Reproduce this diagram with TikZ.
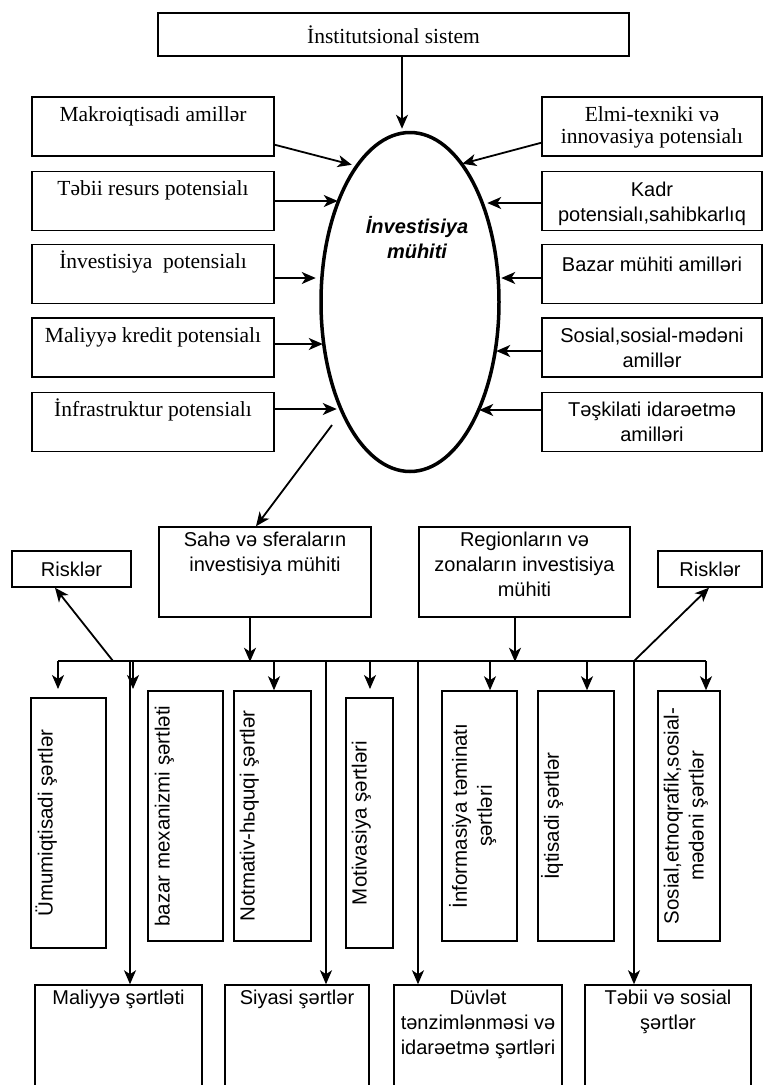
\documentclass[tikz,border=0pt]{standalone}
\usepackage{fontspec}
\setmainfont{Liberation Serif}
\setsansfont{Liberation Sans}
\usetikzlibrary{arrows.meta,positioning,shapes.geometric}
\tikzset{
        box/.style = {draw, rectangle, line width=1.5pt, inner sep=0pt},
        lbox/.style = {box, minimum width=242pt, minimum height=59pt},
        rbox/.style = {box, minimum width=220pt, minimum height=59pt},
        vrect/.style = {box, minimum height=250pt},
        brect/.style = {box, minimum height=120pt},
        ser/.style = {font=\fontsize{21.5}{22.5}\selectfont, align=center, inner sep=0pt},
        san/.style = {font=\sffamily\fontsize{20}{25}\selectfont, align=center, inner sep=0pt},
        vtxt/.style = {san, font=\sffamily\fontsize{20.5}{25}\selectfont, rotate=90},
        arrow/.style = {draw, line width=1.8pt, -{Stealth[length=14pt,width=12pt,inset=4pt]}},
    }

\begin{document}
\begin{tikzpicture}[x=1pt,y=-1pt]
\useasboundingbox (0,0) rectangle (764,1085);

% top
\node[box, minimum width=471pt, minimum height=43pt, ser] (inst) at (393.5,34.5) {İnstitutsional sistem};
\node[draw, ellipse, line width=3.5pt, minimum width=178pt, minimum height=339pt, inner sep=0pt] (env) at (410,302) {};
\node[font=\sffamily\bfseries\itshape\fontsize{20}{25}\selectfont, align=center, inner sep=0pt] (envt) at (417,238) {İnvestisiya\\mühiti};
\draw[arrow] ([xshift=8.5pt]inst.south) -- ++(0,72);

% left boxes
\node[lbox] (makro) at (153,126.5) {};
\node[lbox] (tebii) at (153,201) {};
\node[lbox] (invpot) at (153,274) {};
\node[lbox] (kredit) at (153,347.5) {};
\node[lbox] (infra) at (153,422) {};
\node[ser, anchor=north] (makrot) at ([yshift=-10pt]makro.north) {Makroiqtisadi amillər};
\node[ser, anchor=north] (tebiit) at ([yshift=-10pt]tebii.north) {Təbii resurs potensialı};
\node[ser, anchor=north] (invpott) at ([yshift=-7pt]invpot.north) {İnvestisiya\ \ potensialı};
\node[ser, anchor=north] (kreditt) at ([yshift=-10pt]kredit.north) {Maliyyə kredit potensialı};
\node[ser, anchor=north] (infrat) at ([yshift=-7pt]infra.north) {İnfrastruktur potensialı};

% right boxes
\node[rbox] (elmi) at (652,126.5) {};
\node[rbox] (kadr) at (652,201) {};
\node[rbox] (bazar) at (652,274) {};
\node[rbox] (sosial) at (652,347.5) {};
\node[rbox] (teskil) at (652,422) {};
\node[ser, anchor=north] (elmit) at ([yshift=-10pt]elmi.north) {Elmi-texniki və\\innovasiya potensialı};
\node[san, anchor=north] (kadrt) at ([yshift=-11pt]kadr.north) {Kadr\\potensialı,sahibkarlıq};
\node[san, anchor=north] (bazart) at ([yshift=-13pt]bazar.north) {Bazar mühiti amilləri};
\node[san, anchor=north] (sosialt) at ([yshift=-11pt]sosial.north) {Sosial,sosial-mədəni\\amillər};
\node[san, anchor=north] (teskilt) at ([yshift=-10pt]teskil.north) {Təşkilati idarəetmə\\amilləri};

% inputs to the environment
\draw[arrow] ([yshift=12pt]makro.south east) -- ++(77,20);
\draw[arrow] (tebii.east) -- ++(63,0);
\draw[arrow] ([yshift=-4pt]invpot.east) -- ++(41,0);
\draw[arrow] ([yshift=3.5pt]kredit.east) -- ++(48,0);
\draw[arrow] ([yshift=13pt]infra.east) -- ++(62,0);
\draw[arrow] ([yshift=14pt]elmi.south west) -- ++(-79,21);
\draw[arrow] ([yshift=-2pt]kadr.west) -- ++(-54,0);
\draw[arrow] ([yshift=-4pt]bazar.west) -- ++(-40,0);
\draw[arrow] ([yshift=-3.5pt]sosial.west) -- ++(-45,0);
\draw[arrow] ([yshift=12pt]teskil.west) -- ++(-62,0);

% middle level
\node[box, minimum width=212pt, minimum height=90pt] (saha) at (265,572) {};
\node[box, minimum width=211pt, minimum height=90pt] (region) at (524.5,572) {};
\node[san, anchor=north] (sahat) at ([yshift=-6pt]saha.north) {Sahə və sferaların\\investisiya mühiti};
\node[san, anchor=north] (regiont) at ([yshift=-6pt]region.north) {Regionların və\\zonaların investisiya\\mühiti};
\node[box, minimum width=119pt, minimum height=36pt, san] (riskL) at (71.5,569) {Risklər};
\node[box, minimum width=104pt, minimum height=36pt, san] (riskR) at (710,569) {Risklər};

\coordinate (split) at (332,425);
\draw[arrow] (split) -- ([xshift=-9pt]saha.north);

% bus
\coordinate (busL) at (58,661);
\coordinate (busR) at (706,661);
\draw[line width=1.8pt] (busL) -- (busR);
\draw[arrow] ([xshift=-15pt]saha.south) -- ++(0,44);
\draw[arrow] ([xshift=-9.5pt]region.south) -- ++(0,44);
\coordinate (rskL) at (113,661);
\coordinate (rskR) at (634,661);
\draw[arrow] (rskL) -- ([xshift=-16.5pt]riskL.south);
\draw[arrow] (rskR) -- ([xshift=-1pt]riskR.south);

% vertical boxes
\node[vrect, minimum width=75pt] (umumi) at (68.5,823) {};
\node[vrect, minimum width=75pt] (mexan) at (185.5,816) {};
\node[vrect, minimum width=77pt] (normat) at (272.5,816) {};
\node[vrect, minimum width=47pt] (motiv) at (369.5,823) {};
\node[vrect, minimum width=75pt] (inform) at (479.5,816) {};
\node[vrect, minimum width=76pt] (iqtis) at (576,816) {};
\node[vrect, minimum width=62pt] (etno) at (689,816) {};
\node[vtxt] (umumit) at ([xshift=16pt]umumi.west) {Ümumiqtisadi şərtlər};
\node[vtxt] (mexant) at ([xshift=17pt]mexan.west) {bazar mexanizmi şərtləti};
\node[vtxt] (normatt) at ([xshift=16pt]normat.west) {Notmativ-hьquqi şərtlər};
\node[vtxt] (motivt) at ([xshift=16pt]motiv.west) {Motivasiya şərtləri};
\node[vtxt] (informt) at ([xshift=31.5pt]inform.west) {İnformasiya təminatı\\şərtləri};
\node[vtxt] (iqtist) at ([xshift=15pt]iqtis.west) {İqtisadi şərtlər};
\node[vtxt] (etnot) at ([xshift=28.5pt]etno.west) {Sosial,etnoqrafik,sosial-\\mədəni şərtlər};

% bottom boxes
\node[brect, minimum width=167pt] (maliyye) at (118.5,1045) {};
\node[brect, minimum width=144pt] (siyasi) at (297,1045) {};
\node[brect, minimum width=168pt] (dovlet) at (478,1045) {};
\node[brect, minimum width=166pt] (tebsos) at (668,1045) {};
\node[san, anchor=north] (maliyyet) at ([yshift=-6pt]maliyye.north) {Maliyyə şərtləti};
\node[san, anchor=north] (siyasit) at ([yshift=-6pt]siyasi.north) {Siyasi şərtlər};
\node[san, anchor=north] (dovlett) at ([yshift=-6pt]dovlet.north) {Düvlət\\tənzimlənməsi və\\idarəetmə şərtləri};
\node[san, anchor=north] (tebsost) at ([yshift=-6pt]tebsos.north) {Təbii və sosial\\şərtlər};

% drops from the bus
\coordinate (d2) at (133,661);
\coordinate (d3) at (274,661);
\coordinate (d4) at (370,661);
\coordinate (d5) at (490,661);
\coordinate (d6) at (587,661);
\coordinate (l1) at (130,661);
\coordinate (l2) at (326,661);
\coordinate (l3) at (418,661);
\draw[arrow] (busL) -- ++(0,28);
\draw[arrow] (d2) -- ++(0,28);
\draw[arrow] (d3) -- (d3 |- normat.north);
\draw[arrow] (d4) -- ++(0,28);
\draw[arrow] (d5) -- (d5 |- inform.north);
\draw[arrow] (d6) -- (d6 |- iqtis.north);
\draw[arrow] (busR) -- (busR |- etno.north);
\draw[arrow] (l1) -- (l1 |- maliyye.north);
\draw[arrow] (l2) -- (l2 |- siyasi.north);
\draw[arrow] (l3) -- (l3 |- dovlet.north);
\draw[arrow] (rskR) -- (rskR |- tebsos.north);

\end{tikzpicture}
\end{document}
